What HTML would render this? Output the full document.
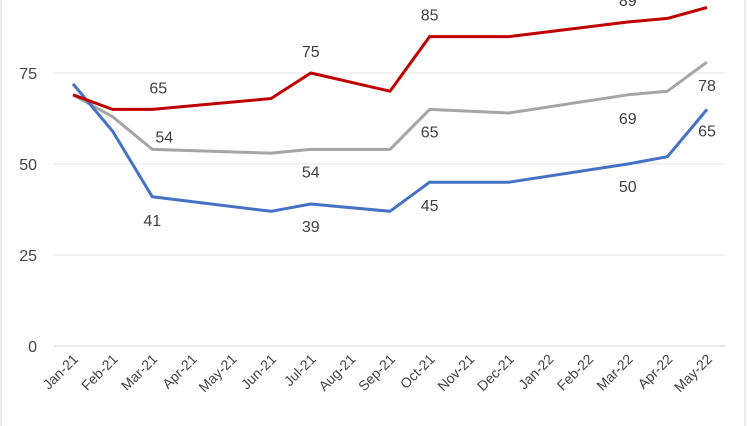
<!DOCTYPE html>
<html><head><meta charset="utf-8"><style>
body{margin:0;background:#fff}
svg{display:block;font-family:"Liberation Sans",Roboto,sans-serif}
</style></head><body>
<svg width="747" height="426" viewBox="0 0 747 426" id="c">
<rect x="1" y="-5" width="744" height="436" fill="#fff" stroke="#d9d9d9"/>
<g id="grid"></g><g id="axes"></g><g id="lines"></g><g id="labels"></g>
</svg>
<script>
const categories=["Jan-21","Feb-21","Mar-21","Apr-21","May-21","Jun-21","Jul-21","Aug-21","Sep-21","Oct-21","Nov-21","Dec-21","Jan-22","Feb-22","Mar-22","Apr-22","May-22"];
const redValues=[69,65,65,null,null,68,75,null,70,85,null,85,null,null,89,90,93];
const grayValues=[69,63,54,null,null,53,54,null,54,65,null,64,null,null,69,70,78];
const blueValues=[72,59,41,null,null,37,39,null,37,45,null,45,null,null,50,52,65];
const yTicks=[0,25,50,75];
// labels: [index, dx, dy]
const redLabels=[[2,6,-22],[6,0,-22],[9,0,-22],[14,0,-22]];
const grayLabels=[[2,12,-13],[6,0,22],[9,0,22],[14,0,23],[16,0,23]];
const blueLabels=[[2,0,23],[6,0,22],[9,0,23],[14,0,22],[16,0,21]];
const NS="http://www.w3.org/2000/svg";
const x=i=>73+i*39.625, y=v=>346-v*3.64;
function mk(tag,attrs,parent){const e=document.createElementNS(NS,tag);for(const k in attrs)e.setAttribute(k,attrs[k]);document.getElementById(parent).appendChild(e);return e;}
yTicks.forEach(t=>{
  const l=mk('line',{x1:54,x2:725,y1:y(t),y2:y(t),stroke:t===0?'#d0d0d0':'#e6e6e6','stroke-width':1},'grid');
  
  
  const tx=mk('text',{x:37,y:y(t)+6,'text-anchor':'end','font-size':16,fill:'#444'},'axes');
  tx.textContent=t;
  
  
});
categories.forEach((c,i)=>{
  const tx=mk('text',{transform:`translate(${x(i)+6},${360}) rotate(-45)`,'text-anchor':'end','font-size':14,fill:'#444'},'axes');
  tx.textContent=c;
  
  
});
function line(vals,color,name){
  const pts=vals.map((v,i)=>v==null?null:x(i).toFixed(1)+','+y(v).toFixed(1)).filter(p=>p);
  const p=mk('polyline',{points:pts.join(' '),fill:'none',stroke:color,'stroke-width':3,'stroke-linejoin':'round'},'lines');
  
  
}
line(grayValues,'#a5a5a5','gray-series-line');
line(blueValues,'#4472c4','blue-series-line');
line(redValues,'#c00000','red-series-line');
function labels(list,vals,name){
  list.forEach(([i,dx,dy])=>{
    const t=mk('text',{x:x(i)+dx,y:y(vals[i])+dy+6,'text-anchor':'middle','font-size':16,fill:'#404040'},'labels');
    t.textContent=vals[i];
    
    
  });
}
labels(redLabels,redValues,'red-data-label');
labels(grayLabels,grayValues,'gray-data-label');
labels(blueLabels,blueValues,'blue-data-label');
</script>
</body></html>
